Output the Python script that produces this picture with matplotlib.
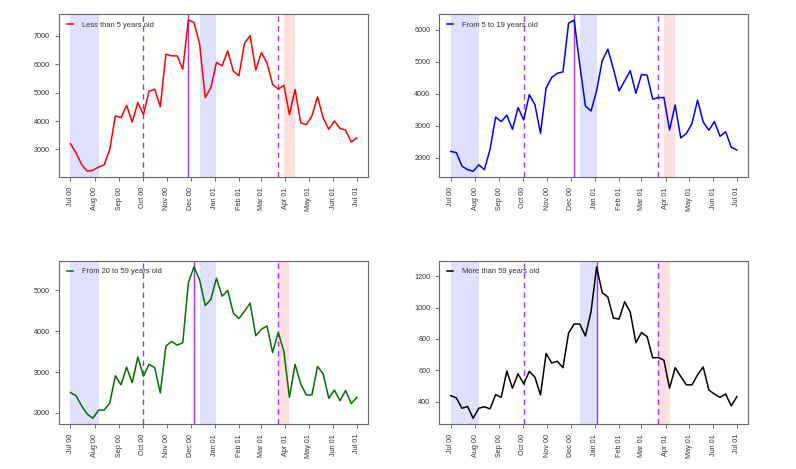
import matplotlib
matplotlib.use("Agg")
import matplotlib.pyplot as plt
import matplotlib.dates as mdates
from matplotlib.ticker import MultipleLocator
import numpy as np
import pandas as pd

plt.rcParams["font.family"] = ["Liberation Sans", "DejaVu Sans"]

# weekly counts, Jul 2000 -> Jul 2001
dates = pd.date_range("2000-07-01", "2001-07-01", periods=52)

under5 = [3200, 2880, 2470, 2235, 2270, 2380, 2460, 3000, 4180, 4120,
          4550, 3960, 4650, 4220, 5050, 5120, 4500, 6350, 6290, 6290,
          5820, 7550, 7470, 6700, 4820, 5170, 6060, 5940, 6470, 5760,
          5590, 6730, 7000, 5790, 6410, 6040, 5290, 5120, 5260, 4220,
          5110, 3940, 3870, 4180, 4850, 4110, 3710, 4000, 3740, 3680,
          3260, 3410]
age5_19 = [2200, 2160, 1740, 1630, 1580, 1780, 1630, 2260, 3270, 3130,
           3330, 2890, 3570, 3180, 3970, 3660, 2760, 4180, 4510, 4640,
           4680, 6200, 6300, 4900, 3620, 3460, 4090, 5030, 5390, 4770,
           4090, 4400, 4720, 4010, 4600, 4580, 3830, 3880, 3880, 2870,
           3650, 2620, 2760, 3070, 3800, 3120, 2860, 3130, 2670, 2810,
           2330, 2240]
age20_59 = [2500, 2420, 2170, 1970, 1870, 2070, 2070, 2240, 2910, 2690,
            3120, 2740, 3370, 2900, 3190, 3110, 2490, 3640, 3750, 3660,
            3720, 5190, 5580, 5260, 4630, 4780, 5300, 4860, 5000, 4450,
            4310, 4490, 4690, 3890, 4050, 4130, 3480, 3970, 3510, 2380,
            3190, 2710, 2440, 2440, 3140, 2960, 2360, 2560, 2300, 2550,
            2230, 2380]
over59 = [439, 424, 359, 370, 295, 359, 368, 355, 445, 428,
          596, 486, 578, 514, 594, 557, 443, 708, 647, 658,
          617, 837, 895, 895, 819, 972, 1260, 1095, 1067, 933,
          927, 1037, 970, 776, 841, 815, 680, 682, 665, 486,
          617, 561, 508, 508, 572, 622, 475, 449, 428, 449,
          374, 432]

series = [under5, age5_19, age20_59, over59]
labels = ["Less than 5 years old", "From 5 to 19 years old",
          "From 20 to 59 years old", "More than 59 years old"]
colors = ["#ff0000", "#0000ff", "#007000", "#000000"]
ysteps = [1000, 1000, 1000, 200]

# week indices of the events
epi_start = 13
epi_end = 37
holidays = [(0, 5), (23, 26)]
spring = [(38, 40), (38, 40), (37, 39), (37, 39)]

W, H = 796, 469
boxes = [(59, 14, 368.3, 177.3), (439.3, 14, 748.3, 177.3),
         (59, 260.7, 368.3, 424.3), (439.3, 260.7, 748.3, 424.3)]

fig = plt.figure(figsize=(W / 100, H / 100), dpi=100)
purple = "#a630f5"
xnum = mdates.date2num(dates)
xpad = (xnum[-1] - xnum[0]) * 0.04
months = pd.date_range("2000-07-01", "2001-07-01", freq="MS")

for k in range(4):
    x0, y0, x1, y1 = boxes[k]
    ax = fig.add_axes([x0 / W, 1 - y1 / H, (x1 - x0) / W, (y1 - y0) / H])
    y = np.array(series[k])

    for a, b in holidays:
        ax.axvspan(dates[a], dates[b], color="#0000ff", alpha=0.12, lw=0, zorder=0)
    a, b = spring[k]
    ax.axvspan(dates[a], dates[b], color="#ff0000", alpha=0.12, lw=0, zorder=0)

    ax.axvline(dates[epi_start], color=purple, lw=1.0, ls=(0, (4, 3)), zorder=1)
    ax.axvline(dates[epi_end], color=purple, lw=1.0, ls=(0, (4, 3)), zorder=1)
    ax.axvline(dates[int(np.argmax(y))], color=purple, lw=1.0, zorder=1)

    ax.plot(dates, y, color=colors[k], lw=1.1, label=labels[k], zorder=2)

    ypad = (y.max() - y.min()) * 0.04
    ax.set_ylim(y.min() - ypad, y.max() + ypad)
    ax.set_xlim(xnum[0] - xpad, xnum[-1] + xpad)
    ax.yaxis.set_major_locator(MultipleLocator(ysteps[k]))

    ax.set_xticks(months)
    ax.xaxis.set_major_formatter(mdates.DateFormatter("%b %y"))
    ax.tick_params(axis="x", labelrotation=90, pad=4)
    ax.tick_params(axis="y", pad=3.5)
    ax.tick_params(labelsize=5.2, colors="#555555", labelcolor="#333333",
                   length=3, width=0.6)
    for s in ax.spines.values():
        s.set_color("#666666")
        s.set_linewidth(0.8)

    ax.legend(loc="upper left", frameon=False, fontsize=5.4,
              handlelength=0.8, handletextpad=1.2, borderaxespad=0.6,
              labelcolor="#333333")

fig.savefig("out.png", dpi=100)
